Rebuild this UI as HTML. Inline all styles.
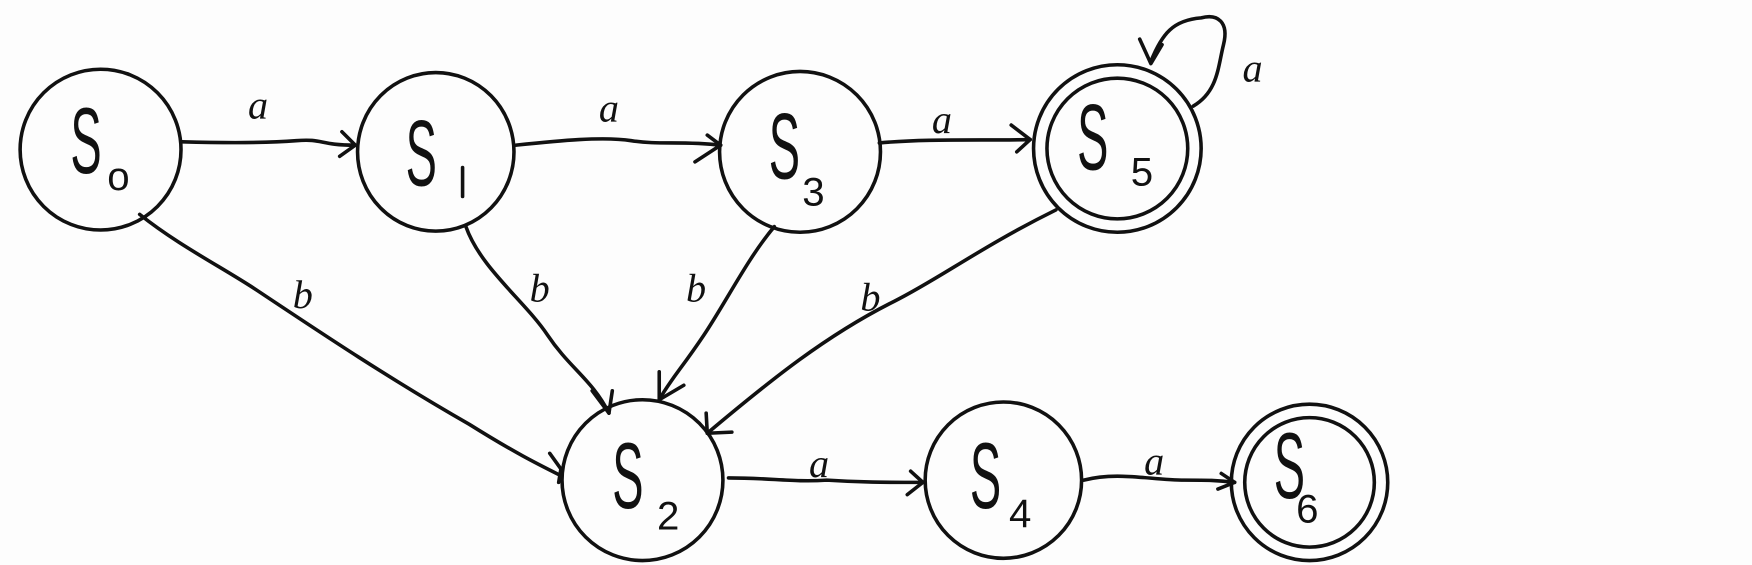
<!DOCTYPE html>
<html><head><style>
html,body{margin:0;padding:0;background:#fdfdfd;}
svg{display:block;}
text{font-family:"Liberation Sans",sans-serif;fill:#111;}
.l{font-family:"Liberation Serif",serif;font-style:italic;}
</style></head><body>
<svg width="1752" height="565" viewBox="0 0 1568 506" preserveAspectRatio="none" xmlns="http://www.w3.org/2000/svg">
<g fill="none" stroke="#111" stroke-width="3.2" stroke-linecap="round" stroke-linejoin="round">
<ellipse cx="90" cy="134" rx="72" ry="72"/>
<ellipse cx="390" cy="136" rx="70" ry="71"/>
<ellipse cx="716" cy="136" rx="72" ry="72"/>
<ellipse cx="1000" cy="133" rx="75" ry="75"/>
<ellipse cx="1000" cy="133" rx="63" ry="63"/>
<ellipse cx="575" cy="430" rx="72" ry="72"/>
<ellipse cx="898" cy="430" rx="70" ry="70"/>
<ellipse cx="1172" cy="432" rx="70" ry="70"/>
<ellipse cx="1172" cy="432" rx="58" ry="58"/>
<path d="M163,127 C200,128 240,128 265,126 C290,124 285,130 318,130"/>
<path d="M306,118 L318,130 L304,140"/>
<path d="M462,130 C500,126 540,122 565,126 C590,130 610,126 645,130"/>
<path d="M633,121 L645,130 L622,145"/>
<path d="M787,128 C830,124 880,126 922,125"/>
<path d="M905,112 L922,125 L910,136"/>
<path d="M1068,95 C1090,82 1090,60 1095,40 C1100,20 1090,12 1075,16 C1050,18 1040,30 1030,55"/>
<path d="M1020,35 L1030,57 L1040,40"/>
<path d="M652,428 C690,428 710,432 740,430 C770,432 790,432 826,432"/>
<path d="M815,422 L826,432 L812,443"/>
<path d="M970,430 C1000,422 1030,430 1060,430 C1080,430 1090,430 1105,432"/>
<path d="M1093,424 L1105,432 L1090,438"/>
<path d="M125,192 C160,220 200,240 230,260 C290,300 350,340 420,380 C460,405 480,415 500,425"/>
<path d="M492,406 L502,420 L500,432"/>
<path d="M417,203 C430,240 470,270 490,300 C510,330 530,340 545,370"/>
<path d="M530,350 L545,370 L548,350"/>
<path d="M693,203 C670,230 650,270 630,300 C610,330 600,340 590,358"/>
<path d="M590,333 L590,358 L612,345"/>
<path d="M945,188 C880,220 840,250 800,270 C740,300 690,340 633,388"/>
<path d="M632,370 L633,388 L655,387"/>
<path d="M414,150 L414,176"/>
</g>
<g font-size="84">
<text transform="translate(63,155) scale(0.5,1)">S</text>
<text transform="translate(363,166) scale(0.5,1)">S</text>
<text transform="translate(688,160) scale(0.5,1)">S</text>
<text transform="translate(964,152) scale(0.5,1)">S</text>
<text transform="translate(548,455) scale(0.5,1)">S</text>
<text transform="translate(868,455) scale(0.5,1)">S</text>
<text transform="translate(1140,446) scale(0.5,1)">S</text>
</g>
<g font-size="36">
<text x="96" y="170">o</text>
<text x="718" y="184">3</text>
<text x="1012" y="166">5</text>
<text x="588" y="474">2</text>
<text x="903" y="472">4</text>
<text x="1160" y="468">6</text>
</g>
<g font-size="36">
<text class="l" x="222" y="106">a</text>
<text class="l" x="536" y="109">a</text>
<text class="l" x="834" y="119">a</text>
<text class="l" x="1112" y="73">a</text>
<text class="l" x="724" y="427">a</text>
<text class="l" x="1024" y="425">a</text>
<text class="l" x="262" y="276">b</text>
<text class="l" x="474" y="270">b</text>
<text class="l" x="614" y="270">b</text>
<text class="l" x="770" y="278">b</text>
</g>
</svg>
</body></html>
